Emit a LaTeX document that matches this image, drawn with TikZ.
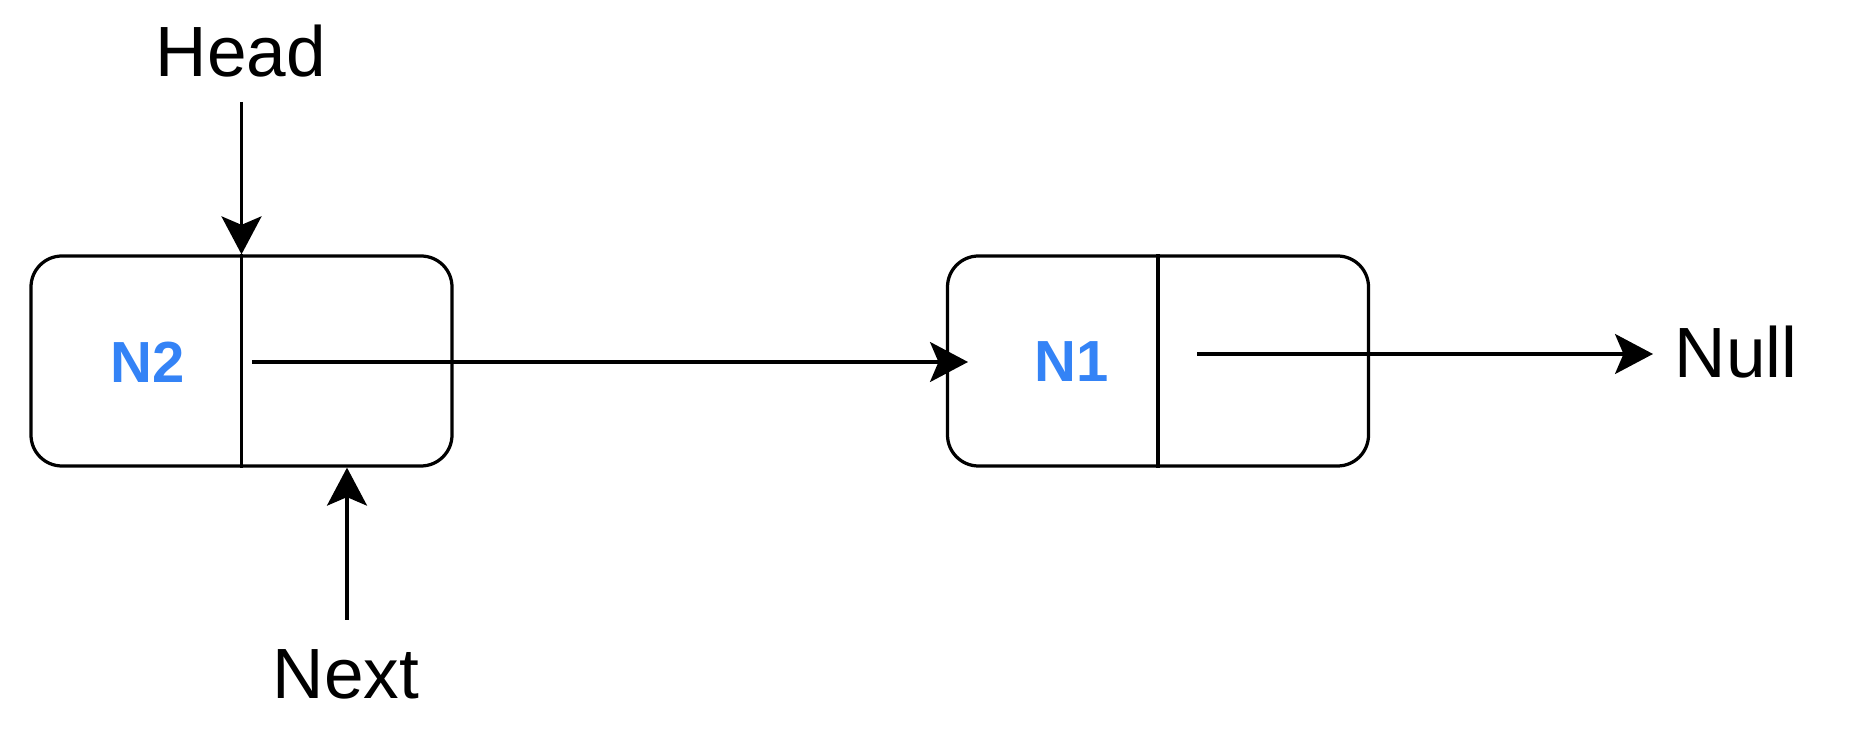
\documentclass[tikz,border=0pt]{standalone}
\usepackage{fontspec}
\setmainfont{Liberation Sans}
\definecolor{nodeblue}{HTML}{3483F6}
\usetikzlibrary{arrows.meta,positioning,calc}

\begin{document}
\begin{tikzpicture}[
  line width=0.065cm,
  listnode/.style={rectangle, rounded corners=0.62cm, draw=black, minimum width=8.42cm, minimum height=4.2cm, inner sep=0pt},
  val/.style={text=nodeblue, font=\fontsize{33}{40}\selectfont\bfseries, inner sep=0pt},
  lbl/.style={font=\fontsize{40.5}{48}\selectfont, inner sep=0pt},
  ptr/.style={-{Stealth[length=0.76cm, width=0.8cm, inset=0.17cm]}},
]
\useasboundingbox (0,0) rectangle (37.12,14.72);
% list nodes
\node[listnode] (n2box) at (4.83,7.5) {};
\node[listnode] (n1box) at (23.16,7.5) {};
\draw (n2box.north) -- (n2box.south);
\draw (n1box.north) -- (n1box.south);
\node[val] (n2) at (2.95,7.48) {N2};
\node[val] (n1) at (21.43,7.48) {N1};
% labels
\node[lbl] (head) at (4.82,13.7) {Head};
\node[lbl] (next) at (6.92,1.24) {Next};
\node[lbl] (null) at (34.72,7.68) {Null};
% pointer ends
\coordinate (headtail) at (4.83,12.68);
\coordinate (nexttail) at (6.94,2.32);
\coordinate (n2ptr) at (5.04,7.48);
\coordinate (n1in) at (19.36,7.48);
\coordinate (n1ptr) at (23.94,7.64);
\coordinate (nullin) at (33.06,7.64);
\draw[ptr] (headtail) -- (n2box.north);
\draw[ptr] (nexttail) -- (nexttail |- n2box.south);
\draw[ptr] (n2ptr) -- (n1in);
\draw[ptr] (n1ptr) -- (nullin);
\end{tikzpicture}
\end{document}
